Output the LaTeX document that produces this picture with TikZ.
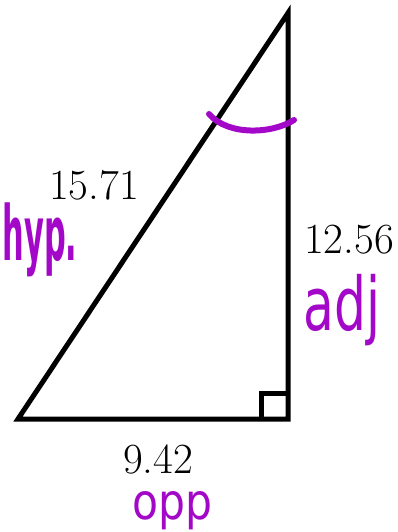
\documentclass[tikz,border=0pt]{standalone}
\usepackage{fontspec}
\newfontfamily\handfont{DejaVu Sans}
\definecolor{ink}{RGB}{163,8,200}
\tikzset{
  side/.style={line width=5pt, line join=miter},
  num/.style={font=\fontsize{43}{45}\selectfont, inner sep=0pt},
  hand/.style={text=ink, inner sep=0pt, transform shape},
  anglemark/.style={draw=ink, line width=6pt, line cap=round}
}
\begin{document}
\begin{tikzpicture}[x=1pt,y=-1pt]
\useasboundingbox (0,0) rectangle (397,532);
\coordinate (A) at (18,419);
\coordinate (B) at (288,419);
\coordinate (C) at (288,13);
\draw[side] (A) -- (B) -- (C) -- cycle;
\coordinate (S) at (261,393);
\draw[side] (261,419) -- (S) -- (288,393);
\draw[anglemark] (209,114) .. controls (228,136) and (272,134) .. (294,120);
\node[num] (hyplen) at (94,185) {15.71};
\node[num] (adjlen) at (349,240) {12.56};
\node[num] (opplen) at (158,459) {9.42};
\node[hand, font=\handfont\bfseries\fontsize{76}{76}\selectfont, xscale=0.4] (hyp) at (40,240) {hyp.};
\node[hand, font=\handfont\fontsize{74}{74}\selectfont, xscale=0.68] (adj) at (342,310) {adj};
\node[hand, font=\handfont\fontsize{50}{50}\selectfont, xscale=0.85] (opp) at (172,511) {opp};
\end{tikzpicture}
\end{document}
